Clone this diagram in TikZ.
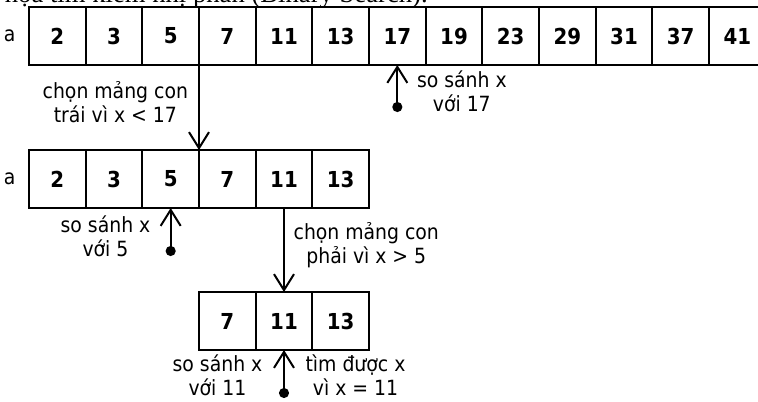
\documentclass[tikz,border=0pt]{standalone}
\usepackage{fontspec}
\setmainfont{DejaVu Sans Condensed}
\newfontfamily\captionfont{Liberation Serif}
\usepackage{tikz}
\usetikzlibrary{arrows.meta,positioning}

\begin{document}
\begin{tikzpicture}[x=0.75pt, y=-0.75pt, node distance=0pt, every node/.style={font=\fontsize{15.7}{18}\selectfont}, cell/.style={draw, line width=1.5pt, outer sep=0pt, inner sep=0pt, minimum width=42.5pt, minimum height=43.5pt, font=\fontsize{16.5}{18}\selectfont\bfseries}, lbl/.style={align=center, inner sep=0pt}, arr/.style={-{Straight Barb[length=12pt, width=15pt]}, line width=1.5pt}, probe/.style={{Circle[length=7.5pt]}-{Straight Barb[length=12pt, width=15pt]}, line width=1.5pt}]
\useasboundingbox (0,0) rectangle (758,401);
\node[anchor=base east, inner sep=0pt, font=\captionfont\fontsize{20}{24}\selectfont] (title) at (428,2) {Minh họa tìm kiếm nhị phân (Binary Search).};
% whole array
\node[cell, anchor=north west] (t1) at (29,7) {2};
\node[cell, right=of t1] (t2) {3};
\node[cell, right=of t2] (t3) {5};
\node[cell, right=of t3] (t4) {7};
\node[cell, right=of t4] (t5) {11};
\node[cell, right=of t5] (t6) {13};
\node[cell, right=of t6] (t7) {17};
\node[cell, right=of t7] (t8) {19};
\node[cell, right=of t8] (t9) {23};
\node[cell, right=of t9] (t10) {29};
\node[cell, right=of t10] (t11) {31};
\node[cell, right=of t11] (t12) {37};
\node[cell, right=of t12] (t13) {41};
\node[lbl, left=10pt of t1] (nameT) {a};
% left half
\node[cell, below=63.75pt of t1] (m1) {2};
\node[cell, right=of m1] (m2) {3};
\node[cell, right=of m2] (m3) {5};
\node[cell, right=of m3] (m4) {7};
\node[cell, right=of m4] (m5) {11};
\node[cell, right=of m5] (m6) {13};
\node[lbl, left=10pt of m1] (nameM) {a};
% right part
\node[cell, below=63pt of m4] (b1) {7};
\node[cell, right=of b1] (b2) {11};
\node[cell, right=of b2] (b3) {13};
\coordinate[below=35.25pt of t7.south] (dotT);
\coordinate[below=36pt of m3.south] (dotM);
\coordinate[below=36pt of b2.south] (dotB);
\draw[probe] (dotT) -- node[lbl, right=14pt, yshift=-2.25pt] (cmpT) {so sánh x\\với 17} (t7.south);
\draw[arr] (t3.south east) -- node[lbl, left=7.5pt, yshift=3.75pt] (selL) {chọn mảng con\\trái vì x < 17} (m3.north east);
\draw[probe] (dotM) -- node[lbl, left=14.5pt, yshift=-3pt] (cmpM) {so sánh x\\với 5} (m3.south);
\draw[arr] (m5.south) -- node[lbl, right=6.5pt, yshift=3.4pt] (selR) {chọn mảng con\\phải vì x > 5} (b2.north);
\draw[probe] (dotB) -- node[lbl, left=15.5pt, yshift=-1pt] (cmpB) {so sánh x\\với 11} (b2.south);
\path (dotB) -- node[lbl, right=16pt, yshift=-1pt] (found) {tìm được x\\vì x = 11} (b2.south);
\end{tikzpicture}
\end{document}
